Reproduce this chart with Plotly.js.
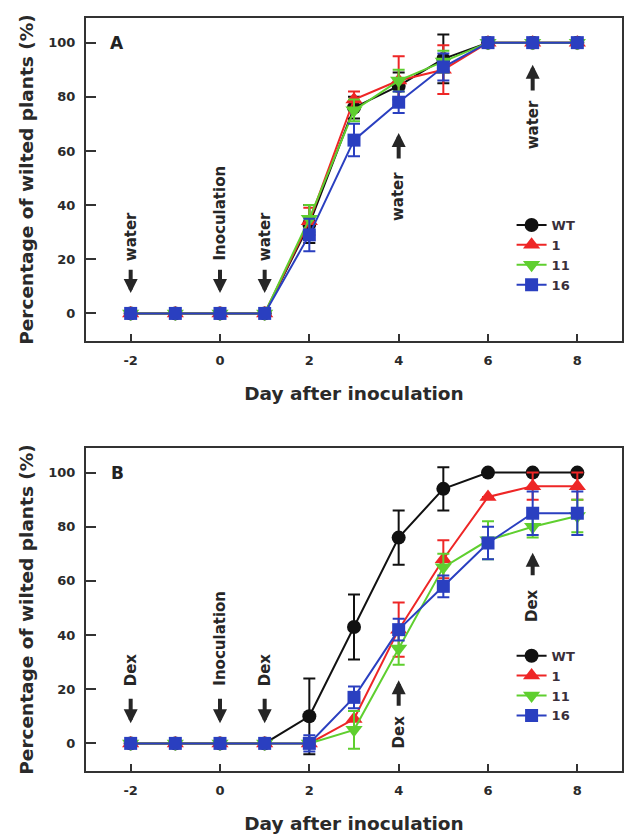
<!DOCTYPE html>
<html>
<head>
<meta charset="utf-8">
<script src="https://cdn.plot.ly/plotly-3.0.1.min.js"></script>
<style>html,body{margin:0;padding:0;background:#fff;}#chart{width:624px;height:835px;}</style>
</head>
<body>
<div id="chart"></div>
<script>
// ---------- data ----------
const days = [-2, -1, 0, 1, 2, 3, 4, 5, 6, 7, 8];
const seriesNames = ['WT', '1', '11', '16'];

// Panel A (water treatment)
const wtA   = [0, 0, 0, 0, 33, 76, 84, 94, 100, 100, 100];
const wtAErr  = [0, 0, 0, 0, 7, 4, 5, 9, 0, 0, 0];
const l1A   = [0, 0, 0, 0, 34, 79, 86, 90, 100, 100, 100];
const l1AErr  = [0, 0, 0, 0, 5, 3, 9, 9, 0, 0, 0];
const l11A  = [0, 0, 0, 0, 35, 75, 86, 93, 100, 100, 100];
const l11AErr = [0, 0, 0, 0, 5, 4, 4, 4, 0, 0, 0];
const l16A  = [0, 0, 0, 0, 29, 64, 78, 91, 100, 100, 100];
const l16AErr = [0, 0, 0, 0, 6, 6, 4, 5, 0, 0, 0];

// Panel B (Dex treatment)
const wtB   = [0, 0, 0, 0, 10, 43, 76, 94, 100, 100, 100];
const wtBErr  = [0, 0, 0, 0, 14, 12, 10, 8, 0, 0, 0];
const l1B   = [0, 0, 0, 0, 0, 9, 42, 68, 91, 95, 95];
const l1BErr  = [0, 0, 0, 0, 0, 3, 10, 7, 0, 5, 5];
const l11B  = [0, 0, 0, 0, 0, 5, 35, 65, 75, 80, 84];
const l11BErr = [0, 0, 0, 0, 0, 7, 6, 5, 7, 4, 6];
const l16B  = [0, 0, 0, 0, 0, 17, 42, 58, 74, 85, 85];
const l16BErr = [0, 0, 0, 0, 3, 4, 4, 4, 6, 8, 8];

const xTickVals = [-2, 0, 2, 4, 6, 8];
const xTickText = ['-2', '0', '2', '4', '6', '8'];
const yTickVals = [0, 20, 40, 60, 80, 100];
const yTickText = ['0', '20', '40', '60', '80', '100'];

// Treatment events
const eventDaysDown = [-2, 0, 1];
const eventLabelsDownA = ['water', 'Inoculation', 'water'];
const eventLabelsDownB = ['Dex', 'Inoculation', 'Dex'];
const eventDaysUp = [4, 7];
const eventLabelsUpA = ['water', 'water'];
const eventLabelsUpB = ['Dex', 'Dex'];

// ---------- styles ----------
const FONT = 'DejaVu Sans, Arial, sans-serif';
const colors = ['#111111', '#ee2626', '#5fcf2f', '#2a3fc0'];
const symbols = ['circle', 'triangle-up', 'triangle-down', 'square'];
const sizes = [14, 15, 15, 13];

function makeTraces(vals, errs, xa, ya, legendName, showLeg) {
  return vals.map((v, i) => ({
    type: 'scatter', mode: 'lines+markers',
    x: days, y: v, name: seriesNames[i],
    xaxis: xa, yaxis: ya, legend: legendName, showlegend: showLeg,
    line: {color: colors[i], width: 2},
    marker: {color: colors[i], symbol: symbols[i], size: sizes[i]},
    error_y: {type: 'data', array: errs[i], visible: true, color: colors[i], thickness: 2, width: 6}
  }));
}

const traces = [].concat(
  makeTraces([wtA, l1A, l11A, l16A], [wtAErr, l1AErr, l11AErr, l16AErr], 'x', 'y', 'legend', true),
  makeTraces([wtB, l1B, l11B, l16B], [wtBErr, l1BErr, l11BErr, l16BErr], 'x2', 'y2', 'legend2', true)
);

const axColor = '#333333';
const tickFont = {family: FONT, size: 13, color: '#2a2a2a', weight: 'bold'};
const titleFont = {family: FONT, size: 18.5, color: '#2a2a2a', weight: 'bold'};

function xAxis(anchor) {
  return {
    anchor: anchor, domain: [0, 1], range: [-3, 9],
    tickvals: xTickVals, ticktext: xTickText,
    ticks: 'inside', ticklen: 7, tickwidth: 2, tickcolor: axColor,
    showline: true, linecolor: axColor, linewidth: 2, mirror: true,
    showgrid: false, zeroline: false, tickfont: tickFont,
    ticklabelstandoff: 6,
    title: {text: 'Day after inoculation', font: titleFont, standoff: 20}
  };
}
function yAxis(anchor, domain) {
  return {
    anchor: anchor, domain: domain, range: [-10.2, 109.1],
    tickvals: yTickVals, ticktext: yTickText,
    ticks: 'inside', ticklen: 10, tickwidth: 2, tickcolor: axColor,
    showline: true, linecolor: axColor, linewidth: 2, mirror: true,
    showgrid: false, zeroline: false, tickfont: tickFont,
    ticklabelstandoff: 6,
    title: {text: 'Percentage of wilted plants (%)', font: titleFont, standoff: 10}
  };
}

const annotations = [];
const arrowColor = '#262626';
const labelFont = {family: FONT, size: 15, color: '#262626', weight: 'bold'};

function addDown(xa, ya, labels, textBottom, tip, tail) {
  eventDaysDown.forEach((d, i) => {
    annotations.push({x: d, y: tip, ax: d, ay: tail, xref: xa, yref: ya, axref: xa, ayref: ya,
      showarrow: true, arrowhead: 2, arrowsize: 0.7, arrowwidth: 4, arrowcolor: arrowColor, text: ''});
    annotations.push({x: d, y: textBottom, xref: xa, yref: ya, text: labels[i], showarrow: false,
      textangle: -90, yanchor: 'bottom', xanchor: 'center', font: labelFont});
  });
}
function addUp(xa, ya, labels, tips, tails, textTops) {
  eventDaysUp.forEach((d, i) => {
    annotations.push({x: d, y: tips[i], ax: d, ay: tails[i], xref: xa, yref: ya, axref: xa, ayref: ya,
      showarrow: true, arrowhead: 2, arrowsize: 0.7, arrowwidth: 4, arrowcolor: arrowColor, text: ''});
    annotations.push({x: d, y: textTops[i], xref: xa, yref: ya, text: labels[i], showarrow: false,
      textangle: -90, yanchor: 'top', xanchor: 'center', font: labelFont});
  });
}
addDown('x', 'y', eventLabelsDownA, 18.6, 7.5, 16.7);
addUp('x', 'y', eventLabelsUpA, [66.6, 91.8], [56.7, 81.8], [53.0, 79.5]);
addDown('x2', 'y2', eventLabelsDownB, 20.4, 7.4, 17.0);
addUp('x2', 'y2', eventLabelsUpB, [23.3, 70.4], [13.3, 61.5], [11.1, 57.8]);

annotations.push({x: -2.3, y: 100, xref: 'x', yref: 'y', text: 'A', showarrow: false,
  font: {family: FONT, size: 17, color: '#222', weight: 'bold'}});
annotations.push({x: -2.3, y: 100, xref: 'x2', yref: 'y2', text: 'B', showarrow: false,
  font: {family: FONT, size: 17, color: '#222', weight: 'bold'}});

const legendFont = {family: FONT, size: 13, color: '#3a2f3a', weight: 'bold'};
const layout = {
  width: 624, height: 835,
  margin: {l: 86, r: 2, t: 18, b: 64},
  paper_bgcolor: '#ffffff', plot_bgcolor: '#ffffff',
  showlegend: true,
  xaxis: xAxis('y'),
  yaxis: yAxis('x', [0.571, 1]),
  xaxis2: xAxis('y2'),
  yaxis2: yAxis('x2', [0, 0.429]),
  legend: {x: 0.794, y: 0.745, xanchor: 'left', yanchor: 'top', font: legendFont,
    bgcolor: 'rgba(0,0,0,0)', borderwidth: 0, tracegroupgap: 0},
  legend2: {x: 0.794, y: 0.173, xanchor: 'left', yanchor: 'top', font: legendFont,
    bgcolor: 'rgba(0,0,0,0)', borderwidth: 0, tracegroupgap: 0},
  annotations: annotations
};

Plotly.newPlot('chart', traces, layout, {displayModeBar: false, staticPlot: true});
</script>
</body>
</html>
